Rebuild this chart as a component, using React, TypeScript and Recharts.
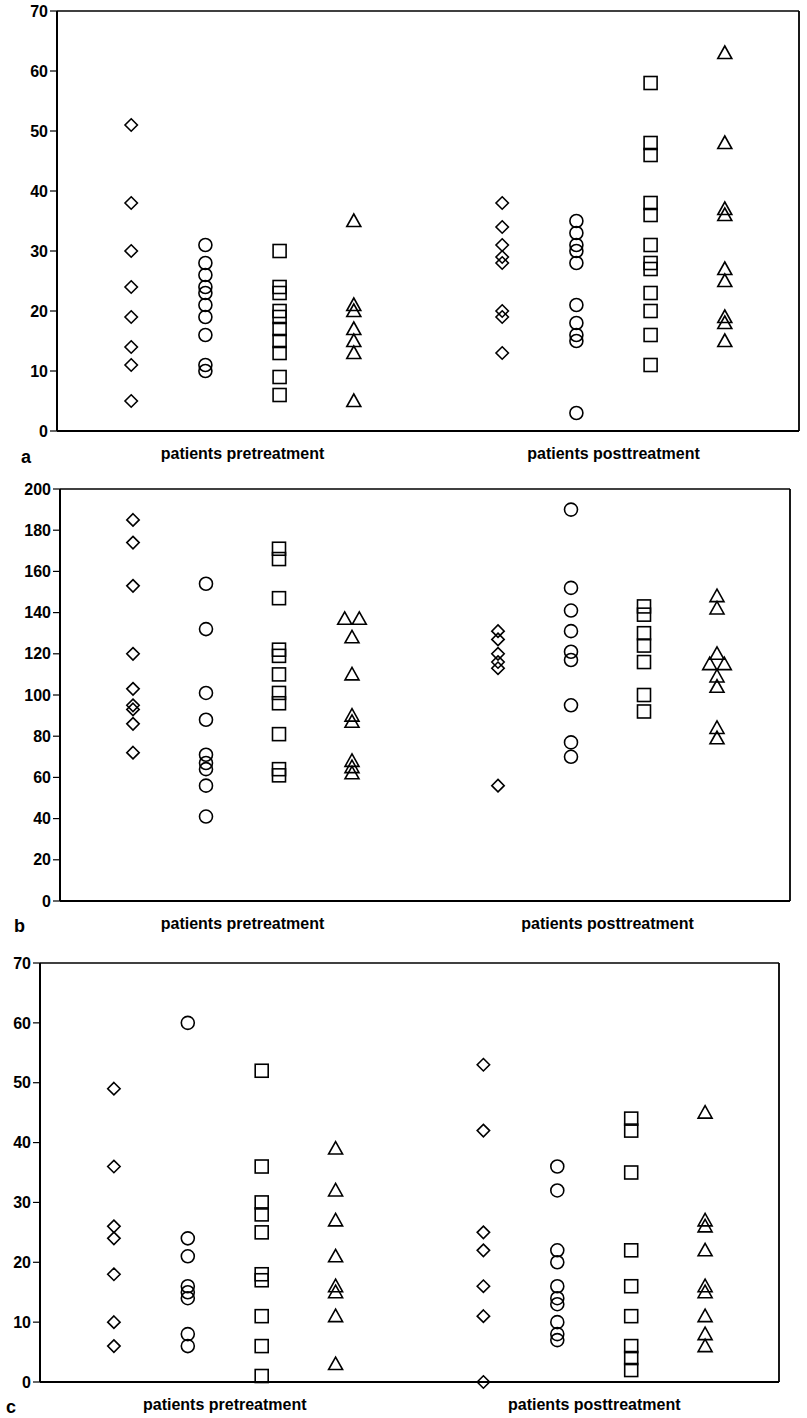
import React from 'react';
import { ScatterChart, Scatter, XAxis, YAxis, ReferenceLine } from 'recharts';

// ---------- shared axis data ----------
const groupLabels = ['patients pretreatment', 'patients posttreatment'];
const groupLabelPositions = [2.5, 7.5];
const columnPositions = [1, 2, 3, 4, 6, 7, 8, 9];
const columnShapes = ['diamond', 'circle', 'square', 'triangle', 'diamond', 'circle', 'square', 'triangle'];

// ---------- panel a ----------
const aTicks = [0, 10, 20, 30, 40, 50, 60, 70];
const aPreDiamond = [51, 38, 30, 24, 19, 14, 11, 5];
const aPreCircle = [31, 28, 26, 24, 23, 21, 19, 16, 11, 10];
const aPreSquare = [30, 24, 23, 20, 19, 17, 15, 13, 9, 6];
const aPreTriangle = [35, 21, 20, 17, 15, 13, 5];
const aPostDiamond = [38, 34, 31, 29, 28, 20, 19, 13];
const aPostCircle = [35, 33, 31, 30, 28, 21, 18, 16, 15, 3];
const aPostSquare = [58, 48, 46, 38, 36, 31, 28, 27, 23, 20, 16, 11];
const aPostTriangle = [63, 48, 37, 36, 27, 25, 19, 18, 15];

// ---------- panel b ----------
const bTicks = [0, 20, 40, 60, 80, 100, 120, 140, 160, 180, 200];
const bPreDiamond = [185, 174, 153, 120, 103, 95, 93, 86, 72];
const bPreCircle = [154, 132, 101, 88, 71, 67, 64, 56, 41];
const bPreSquare = [171, 166, 147, 122, 119, 110, 101, 96, 81, 64, 61];
const bPreTriangle = [137, 137, 128, 110, 90, 87, 68, 65, 62];
const bPreTriangleDx = [-0.1, 0.1, 0, 0, 0, 0, 0, 0, 0];
const bPostDiamond = [131, 127, 120, 116, 113, 56];
const bPostCircle = [190, 152, 141, 131, 121, 117, 95, 77, 70];
const bPostSquare = [143, 139, 130, 124, 116, 100, 92];
const bPostTriangle = [148, 142, 120, 115, 115, 109, 104, 84, 79];
const bPostTriangleDx = [0, 0, 0, -0.1, 0.1, 0, 0, 0, 0];

// ---------- panel c ----------
const cTicks = [0, 10, 20, 30, 40, 50, 60, 70];
const cPreDiamond = [49, 36, 26, 24, 18, 10, 6];
const cPreCircle = [60, 24, 21, 16, 15, 14, 8, 6];
const cPreSquare = [52, 36, 30, 28, 25, 18, 17, 11, 6, 1];
const cPreTriangle = [39, 32, 27, 21, 16, 15, 11, 3];
const cPostDiamond = [53, 42, 25, 22, 16, 11, 0];
const cPostCircle = [36, 32, 22, 20, 16, 14, 13, 10, 8, 7];
const cPostSquare = [44, 42, 35, 22, 16, 11, 6, 4, 2];
const cPostTriangle = [45, 27, 26, 22, 16, 15, 11, 8, 6];

const FONT = "'Liberation Sans', Arial, Helvetica, sans-serif";
const SW = 1.6;

const Diamond = (p: any) => (
  <path
    d={`M${p.cx},${p.cy - 6.2}L${p.cx + 6.2},${p.cy}L${p.cx},${p.cy + 6.2}L${p.cx - 6.2},${p.cy}Z`}
    fill="none"
    stroke="#000"
    strokeWidth={SW}
  />
);
const Circle = (p: any) => <circle cx={p.cx} cy={p.cy} r={6.5} fill="none" stroke="#000" strokeWidth={SW} />;
const Square = (p: any) => (
  <rect x={p.cx - 6.5} y={p.cy - 6.5} width={13} height={13} fill="none" stroke="#000" strokeWidth={SW} />
);
const Triangle = (p: any) => (
  <path
    d={`M${p.cx},${p.cy - 7}L${p.cx + 7},${p.cy + 5.5}L${p.cx - 7},${p.cy + 5.5}Z`}
    fill="none"
    stroke="#000"
    strokeWidth={SW}
    strokeLinejoin="miter"
  />
);
const shapes: Record<string, any> = { diamond: Diamond, circle: Circle, square: Square, triangle: Triangle };

const pts = (x: number, values: number[], dx?: number[]) =>
  values.map((v, i) => ({ x: x + (dx ? dx[i] : 0), y: v }));

type PanelProps = {
  top: number;
  height: number;
  margin: { top: number; right: number; bottom: number; left: number };
  yWidth: number;
  yMax: number;
  yTicks: number[];
  xHeight: number;
  series: number[][];
  offsets?: (number[] | undefined)[];
};

function Panel({ top, height, margin, yWidth, yMax, yTicks, xHeight, series, offsets }: PanelProps) {
  return (
    <div style={{ position: 'absolute', left: 0, top }}>
      <ScatterChart width={807} height={height} margin={margin}>
        <XAxis
          type="number"
          dataKey="x"
          domain={[0, 10]}
          ticks={groupLabelPositions}
          interval={0}
          tickFormatter={(v: number) => groupLabels[groupLabelPositions.indexOf(v)]}
          tickLine={false}
          tickSize={6}
          tickMargin={11}
          height={xHeight}
          axisLine={{ stroke: '#000', strokeWidth: 2 }}
          tick={{ fill: '#000', fontSize: 16, fontWeight: 'bold', fontFamily: FONT }}
        />
        <YAxis
          type="number"
          dataKey="y"
          domain={[0, yMax]}
          ticks={yTicks}
          interval={0}
          width={yWidth}
          tickSize={7}
          tickMargin={2}
          axisLine={{ stroke: '#000', strokeWidth: 2 }}
          tickLine={{ stroke: '#000', strokeWidth: 1.2 }}
          tick={{ fill: '#000', fontSize: 16, fontWeight: 'bold', fontFamily: FONT }}
        />
        <ReferenceLine y={yMax} stroke="#000" strokeWidth={1.5} />
        <ReferenceLine x={10} stroke="#000" strokeWidth={1.8} />
        {series.map((vals, i) => (
          <Scatter
            key={i}
            data={pts(columnPositions[i], vals, offsets ? offsets[i] : undefined)}
            shape={shapes[columnShapes[i]]}
            isAnimationActive={false}
          />
        ))}
      </ScatterChart>
    </div>
  );
}

const letterStyle = (left: number, top: number): React.CSSProperties => ({
  position: 'absolute',
  left,
  top,
  fontFamily: FONT,
  fontWeight: 'bold',
  fontSize: 18,
  lineHeight: '18px',
  color: '#000',
});

export default function App() {
  return (
    <div style={{ position: 'absolute', left: 0, top: 0, width: 807, height: 1418, background: '#fff', overflow: 'hidden' }}>
      <Panel
        top={0}
        height={480}
        margin={{ top: 11, right: 8, bottom: 9, left: 7 }}
        yWidth={50}
        yMax={70}
        yTicks={aTicks}
        xHeight={40}
        series={[aPreDiamond, aPreCircle, aPreSquare, aPreTriangle, aPostDiamond, aPostCircle, aPostSquare, aPostTriangle]}
      />
      <Panel
        top={470}
        height={480}
        margin={{ top: 19, right: 17, bottom: 9, left: 10 }}
        yWidth={50}
        yMax={200}
        yTicks={bTicks}
        xHeight={40}
        series={[bPreDiamond, bPreCircle, bPreSquare, bPreTriangle, bPostDiamond, bPostCircle, bPostSquare, bPostTriangle]}
        offsets={[undefined, undefined, undefined, bPreTriangleDx, undefined, undefined, undefined, bPostTriangleDx]}
      />
      <Panel
        top={950}
        height={468}
        margin={{ top: 13, right: 28, bottom: 0, left: 0 }}
        yWidth={40}
        yMax={70}
        yTicks={cTicks}
        xHeight={36}
        series={[cPreDiamond, cPreCircle, cPreSquare, cPreTriangle, cPostDiamond, cPostCircle, cPostSquare, cPostTriangle]}
      />
      <div style={letterStyle(21, 448)}>a</div>
      <div style={letterStyle(14, 917)}>b</div>
      <div style={letterStyle(6, 1398)}>c</div>
    </div>
  );
}
